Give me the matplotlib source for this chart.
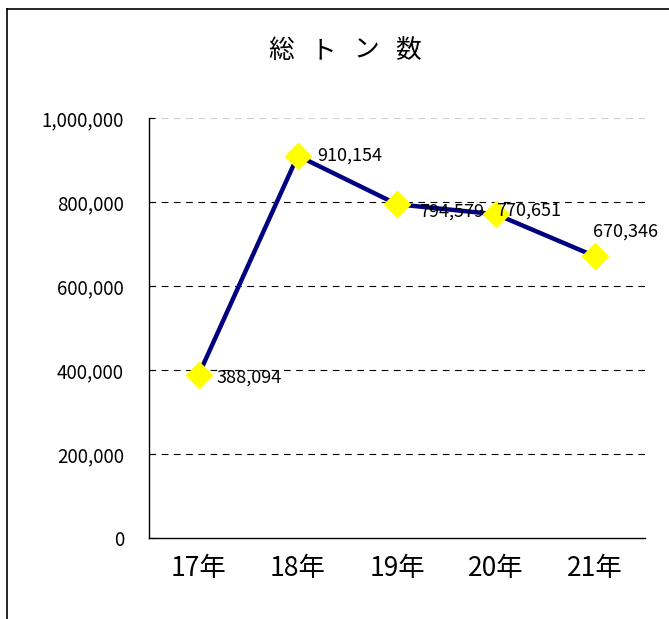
import matplotlib.pyplot as plt
from matplotlib.lines import Line2D

plt.rcParams['font.family'] = ['Noto Sans CJK JP', 'DejaVu Sans']

years = ["17年", "18年", "19年", "20年", "21年"]
tonnage = [388094, 910154, 794579, 770651, 670346]
yticks = [0, 200000, 400000, 600000, 800000, 1000000]
title_chars = ["総", "ト", "ン", "数"]

# label offsets in points, relative to each marker
label_offsets = [(13, -2), (14, 0), (16, -5), (0, 3), (-2, 18)]

fig = plt.figure(figsize=(6.69, 6.19), dpi=100)
ax = fig.add_axes([0.2227, 0.1309, 0.7413, 0.6785])

x = list(range(len(years)))
ax.plot(x, tonnage, color="#000080", lw=3.2, marker="D", markersize=13,
        markerfacecolor="#FFFF00", markeredgecolor="#FFFF00", zorder=3)

for xi, v, off in zip(x, tonnage, label_offsets):
    ax.annotate(f"{v:,}", xy=(xi, v), xytext=off, textcoords="offset points",
                ha="left", va="center", fontsize=13, zorder=4)

ax.set_xlim(-0.5, len(years) - 0.5)
ax.set_ylim(0, 1000000)
ax.set_xticks(x)
ax.set_xticklabels(years, fontsize=19)
ax.set_yticks(yticks)
ax.set_yticklabels([f"{t:,}" for t in yticks], fontsize=13.5)
ax.tick_params(axis="x", length=0, pad=12)
ax.tick_params(axis="y", length=4, direction="in", pad=18)

for t in yticks[1:]:
    c = "#d0d0d0" if t == yticks[-1] else "black"
    ax.axhline(t, color=c, lw=0.8, ls=(0, (6, 5)), zorder=1)

for s in ["top", "right"]:
    ax.spines[s].set_visible(False)
for s in ["left", "bottom"]:
    ax.spines[s].set_linewidth(1.0)

# spaced-out title, one glyph at a time
for i, ch in enumerate(title_chars):
    fig.text((281 + 42.5 * i) / 669, 1 - 51 / 619, ch, ha="center",
             va="center", fontsize=18.5)

# chart frame (left and top edges visible)
fig.add_artist(Line2D([7 / 669, 7 / 669], [0, 1 - 9 / 619],
                      transform=fig.transFigure, color="black", lw=1.2))
fig.add_artist(Line2D([7 / 669, 1], [1 - 9 / 619, 1 - 9 / 619],
                      transform=fig.transFigure, color="black", lw=1.2))

fig.savefig("out.png", dpi=100)
